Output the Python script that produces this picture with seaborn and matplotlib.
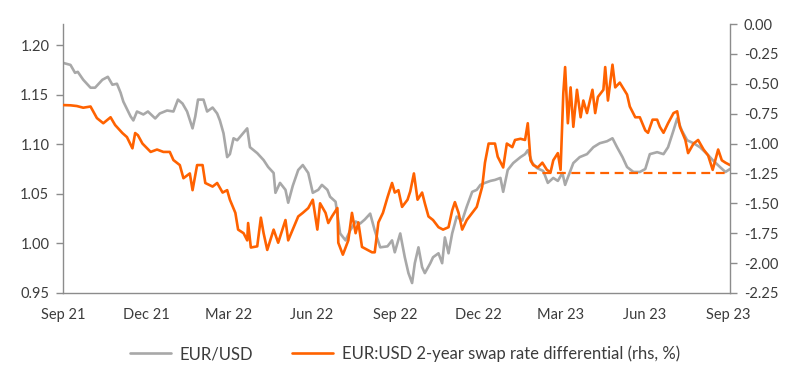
import pandas as pd
import matplotlib.pyplot as plt
import seaborn as sns

# EUR/USD spot (lhs)
eurusd_dates = [
    '2021-09-01', '2021-09-09', '2021-09-14', '2021-09-17', '2021-09-23', '2021-10-01', '2021-10-06',
    '2021-10-14', '2021-10-20', '2021-10-25', '2021-10-30', '2021-11-03', '2021-11-06', '2021-11-14',
    '2021-11-17', '2021-11-21', '2021-11-28', '2021-12-03', '2021-12-11', '2021-12-16', '2021-12-24',
    '2021-12-31', '2022-01-05', '2022-01-10', '2022-01-15', '2022-01-21', '2022-01-24', '2022-01-27',
    '2022-02-02', '2022-02-06', '2022-02-12', '2022-02-17', '2022-02-20', '2022-02-24', '2022-02-28',
    '2022-03-03', '2022-03-07', '2022-03-11', '2022-03-22', '2022-03-25', '2022-04-02', '2022-04-09',
    '2022-04-14', '2022-04-20', '2022-04-22', '2022-04-27', '2022-05-03', '2022-05-06', '2022-05-11',
    '2022-05-17', '2022-05-22', '2022-05-28', '2022-06-02', '2022-06-08', '2022-06-12', '2022-06-18',
    '2022-06-21', '2022-06-27', '2022-07-02', '2022-07-08', '2022-07-13', '2022-07-19', '2022-07-24',
    '2022-07-29', '2022-08-04', '2022-08-09', '2022-08-15', '2022-08-23', '2022-08-28', '2022-08-31',
    '2022-09-06', '2022-09-11', '2022-09-15', '2022-09-19', '2022-09-22', '2022-09-26', '2022-09-30',
    '2022-10-03', '2022-10-09', '2022-10-12', '2022-10-18', '2022-10-22', '2022-10-25', '2022-10-29',
    '2022-11-02', '2022-11-07', '2022-11-13', '2022-11-18', '2022-11-24', '2022-11-29', '2022-12-03',
    '2022-12-08', '2022-12-14', '2022-12-19', '2022-12-25', '2022-12-28', '2023-01-02', '2023-01-08',
    '2023-01-16', '2023-01-21', '2023-01-24', '2023-01-29', '2023-02-03', '2023-02-10', '2023-02-15',
    '2023-02-21', '2023-02-26', '2023-03-03', '2023-03-06', '2023-03-08', '2023-03-15', '2023-03-22',
    '2023-03-30', '2023-04-06', '2023-04-13', '2023-04-21', '2023-04-27', '2023-05-02', '2023-05-08',
    '2023-05-13', '2023-05-20', '2023-05-27', '2023-06-02', '2023-06-07', '2023-06-15', '2023-06-22',
    '2023-06-27', '2023-07-03', '2023-07-07', '2023-07-12', '2023-07-18', '2023-07-25', '2023-08-01',
    '2023-08-09', '2023-08-15', '2023-08-23', '2023-08-29', '2023-09-03',
]
eurusd = [
    1.182, 1.180, 1.172, 1.173, 1.165, 1.157, 1.157,
    1.165, 1.168, 1.160, 1.161, 1.152, 1.143, 1.128,
    1.124, 1.133, 1.130, 1.133, 1.126, 1.131, 1.134,
    1.133, 1.145, 1.141, 1.133, 1.116, 1.128, 1.145,
    1.145, 1.133, 1.137, 1.131, 1.124, 1.111, 1.087,
    1.090, 1.106, 1.104, 1.116, 1.097, 1.091, 1.084,
    1.077, 1.071, 1.051, 1.061, 1.054, 1.041, 1.058,
    1.074, 1.079, 1.071, 1.051, 1.054, 1.059, 1.054,
    1.047, 1.042, 1.010, 1.003, 1.013, 1.022, 1.020,
    1.024, 1.030, 1.013, 0.996, 0.997, 1.003, 0.991,
    1.010, 0.986, 0.970, 0.960, 0.980, 0.996, 0.976,
    0.970, 0.980, 0.986, 0.990, 0.980, 1.006, 0.990,
    1.010, 1.027, 1.023, 1.037, 1.052, 1.054, 1.059,
    1.061, 1.063, 1.064, 1.066, 1.052, 1.074, 1.081,
    1.087, 1.090, 1.094, 1.081, 1.076, 1.073, 1.061,
    1.066, 1.063, 1.071, 1.059, 1.064, 1.081, 1.087,
    1.090, 1.097, 1.101, 1.103, 1.106, 1.097, 1.087,
    1.077, 1.072, 1.072, 1.075, 1.090, 1.092, 1.090,
    1.097, 1.114, 1.126, 1.114, 1.104, 1.101, 1.097,
    1.090, 1.084, 1.077, 1.072, 1.075,
]

# EUR:USD 2-year swap rate differential (rhs, %)
swap_dates = [
    '2021-09-01', '2021-09-09', '2021-09-16', '2021-09-23', '2021-10-01', '2021-10-08', '2021-10-15',
    '2021-10-23', '2021-10-28', '2021-11-05', '2021-11-10', '2021-11-16', '2021-11-19', '2021-11-22',
    '2021-11-27', '2021-12-06', '2021-12-13', '2021-12-20', '2021-12-27', '2021-12-31', '2022-01-07',
    '2022-01-11', '2022-01-18', '2022-01-21', '2022-01-26', '2022-02-01', '2022-02-04', '2022-02-12',
    '2022-02-17', '2022-02-23', '2022-02-28', '2022-03-03', '2022-03-09', '2022-03-12', '2022-03-18',
    '2022-03-22', '2022-03-23', '2022-03-26', '2022-04-02', '2022-04-06', '2022-04-09', '2022-04-13',
    '2022-04-20', '2022-04-25', '2022-05-03', '2022-05-06', '2022-05-11', '2022-05-17', '2022-05-22',
    '2022-05-28', '2022-06-02', '2022-06-07', '2022-06-10', '2022-06-16', '2022-06-19', '2022-06-23',
    '2022-06-29', '2022-06-30', '2022-07-05', '2022-07-11', '2022-07-15', '2022-07-19', '2022-07-22',
    '2022-07-26', '2022-08-01', '2022-08-06', '2022-08-09', '2022-08-13', '2022-08-18', '2022-08-23',
    '2022-08-28', '2022-08-31', '2022-09-04', '2022-09-08', '2022-09-14', '2022-09-17', '2022-09-21',
    '2022-09-25', '2022-09-30', '2022-10-03', '2022-10-07', '2022-10-12', '2022-10-18', '2022-10-23',
    '2022-10-29', '2022-11-02', '2022-11-05', '2022-11-09', '2022-11-13', '2022-11-18', '2022-11-24',
    '2022-11-29', '2022-12-05', '2022-12-08', '2022-12-12', '2022-12-19', '2022-12-22', '2022-12-28',
    '2023-01-01', '2023-01-07', '2023-01-10', '2023-01-16', '2023-01-21', '2023-01-24', '2023-01-27',
    '2023-01-30', '2023-02-04', '2023-02-09', '2023-02-14', '2023-02-18', '2023-02-21', '2023-02-26',
    '2023-03-01', '2023-03-04', '2023-03-06', '2023-03-09', '2023-03-12', '2023-03-15', '2023-03-19',
    '2023-03-23', '2023-03-26', '2023-03-30', '2023-04-05', '2023-04-08', '2023-04-11', '2023-04-17',
    '2023-04-19', '2023-04-22', '2023-04-27', '2023-04-30', '2023-05-05', '2023-05-13', '2023-05-16',
    '2023-05-22', '2023-05-27', '2023-06-02', '2023-06-05', '2023-06-10', '2023-06-15', '2023-06-18',
    '2023-06-22', '2023-06-27', '2023-07-03', '2023-07-07', '2023-07-10', '2023-07-16', '2023-07-19',
    '2023-07-25', '2023-07-30', '2023-08-05', '2023-08-10', '2023-08-15', '2023-08-21', '2023-08-25',
    '2023-08-29', '2023-09-03',
]
swap_diff = [
    -0.678, -0.680, -0.686, -0.700, -0.690, -0.787, -0.830,
    -0.780, -0.845, -0.912, -0.946, -1.040, -0.912, -0.930,
    -1.000, -1.070, -1.050, -1.070, -1.070, -1.138, -1.180,
    -1.290, -1.250, -1.390, -1.180, -1.180, -1.330, -1.360,
    -1.330, -1.410, -1.390, -1.470, -1.580, -1.720, -1.750,
    -1.810, -1.665, -1.870, -1.860, -1.620, -1.750, -1.890,
    -1.720, -1.830, -1.640, -1.810, -1.720, -1.610, -1.580,
    -1.540, -1.470, -1.720, -1.500, -1.580, -1.665, -1.610,
    -1.540, -1.830, -1.930, -1.810, -1.580, -1.750, -1.660,
    -1.865, -1.890, -1.910, -1.910, -1.660, -1.580, -1.450,
    -1.330, -1.410, -1.390, -1.530, -1.470, -1.400, -1.250,
    -1.470, -1.410, -1.500, -1.610, -1.640, -1.700, -1.720,
    -1.700, -1.560, -1.490, -1.580, -1.720, -1.640, -1.580,
    -1.530, -1.360, -1.160, -1.000, -1.000, -1.110, -1.200,
    -1.000, -1.030, -0.970, -0.960, -0.970, -0.830, -1.140,
    -1.180, -1.200, -1.160, -1.220, -1.240, -1.140, -1.080,
    -1.220, -0.580, -0.360, -0.830, -0.530, -0.860, -0.550,
    -0.780, -0.640, -0.745, -0.550, -0.745, -0.610, -0.550,
    -0.360, -0.640, -0.340, -0.530, -0.490, -0.590, -0.690,
    -0.780, -0.780, -0.890, -0.910, -0.800, -0.800, -0.860,
    -0.910, -0.830, -0.745, -0.730, -0.860, -0.970, -1.080,
    -1.000, -0.970, -1.050, -1.100, -1.220, -1.050, -1.140,
    -1.160, -1.180,
]

# reference level (dashed)
ref_dates = ['2023-01-24', '2023-09-01']
ref_level = [-1.25, -1.25]

month_ticks = ['2021-09-01', '2021-12-01', '2022-03-01', '2022-06-01', '2022-09-01',
               '2022-12-01', '2023-03-01', '2023-06-01', '2023-09-01']
month_labels = ['Sep 21', 'Dec 21', 'Mar 22', 'Jun 22', 'Sep 22',
                'Dec 22', 'Mar 23', 'Jun 23', 'Sep 23']
left_ticks = [0.95, 1.00, 1.05, 1.10, 1.15, 1.20]
right_ticks = [-2.25, -2.0, -1.75, -1.5, -1.25, -1.0, -0.75, -0.5, -0.25, 0.0]

GREY = '#A8A8A8'
ORANGE = '#FF6200'
AXIS = '#8C8C8C'
TEXT = '#3C3C3C'

sns.set_style('white')
plt.rcParams['font.family'] = ['Lato', 'DejaVu Sans']
plt.rcParams['axes.unicode_minus'] = False

df_fx = pd.DataFrame({'date': pd.to_datetime(eurusd_dates), 'value': eurusd})
df_sw = pd.DataFrame({'date': pd.to_datetime(swap_dates), 'value': swap_diff})
df_ref = pd.DataFrame({'date': pd.to_datetime(ref_dates), 'value': ref_level})

fig = plt.figure(figsize=(8, 3.88), dpi=100)
ax = fig.add_axes([0.079, 0.245, 0.8335, 0.693])
ax2 = ax.twinx()

sns.lineplot(data=df_fx, x='date', y='value', ax=ax, color=GREY, linewidth=1.9, label='EUR/USD', legend=False)
sns.lineplot(data=df_sw, x='date', y='value', ax=ax2, color=ORANGE, linewidth=1.9,
             label='EUR:USD 2-year swap rate differential (rhs, %)', legend=False)
sns.lineplot(data=df_ref, x='date', y='value', ax=ax2, color=ORANGE, linewidth=1.6,
             linestyle=(0, (4, 2.5)), legend=False)

ax.set_xlim(pd.Timestamp('2021-09-01'), pd.Timestamp('2023-09-03'))
ax.set_ylim(0.95, 1.2212)
ax2.set_ylim(-2.25, 0.0)
ax.set_yticks(left_ticks)
ax.set_yticklabels([f'{v:.2f}' for v in left_ticks])
ax2.set_yticks(right_ticks)
ax2.set_yticklabels([f'{v:.2f}' for v in right_ticks])
ax.set_xticks(pd.to_datetime(month_ticks))
ax.set_xticklabels(month_labels)

for a in (ax, ax2):
    a.set_xlabel('')
    a.set_ylabel('')
    a.spines['top'].set_visible(False)
    for s in ('left', 'right', 'bottom'):
        a.spines[s].set_color(AXIS)
        a.spines[s].set_linewidth(1.0)
    a.tick_params(axis='both', colors=AXIS, labelcolor=TEXT, labelsize=10.5,
                  direction='out', length=5, width=1.0)
ax.spines['right'].set_visible(False)
ax2.spines['left'].set_visible(False)
ax2.spines['bottom'].set_visible(False)
ax.tick_params(axis='x', pad=6)
ax.tick_params(axis='y', pad=5)
ax2.tick_params(axis='y', pad=5)

h1, l1 = ax.get_legend_handles_labels()
h2, l2 = ax2.get_legend_handles_labels()
fig.legend(h1 + h2[:1], l1 + l2[:1], loc='center', bbox_to_anchor=(0.506, 0.088), ncol=2,
           frameon=False, fontsize=12, handlelength=2.5, columnspacing=2.3,
           handletextpad=0.5, labelcolor=TEXT)

fig.savefig('out.png', dpi=100)
